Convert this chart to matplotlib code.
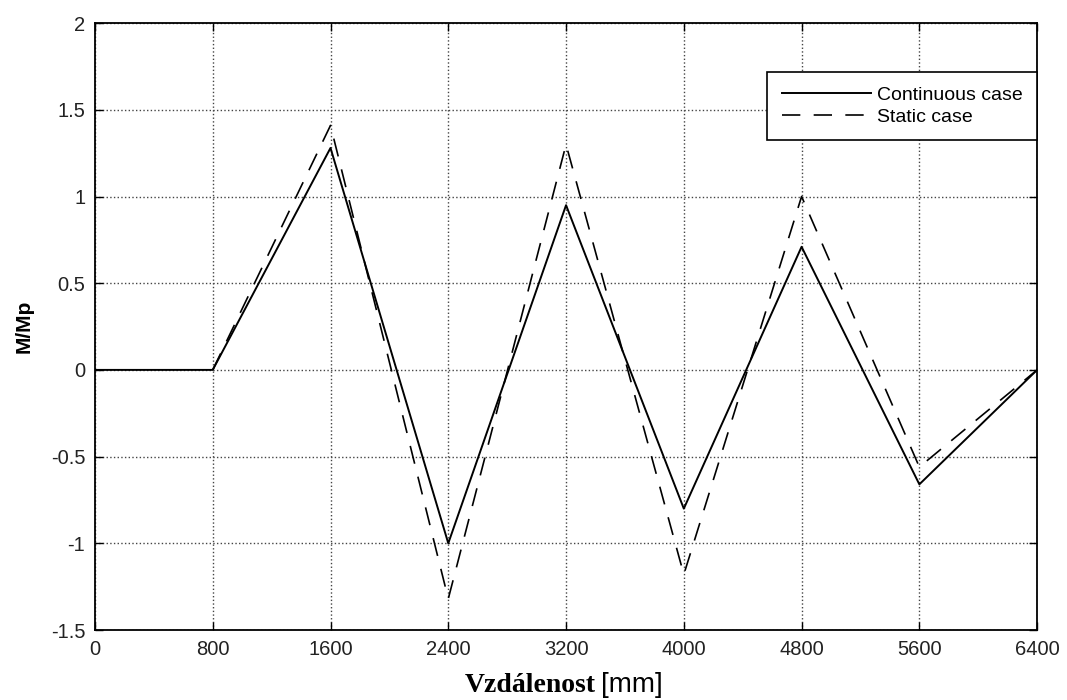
import matplotlib
matplotlib.use("Agg")
import matplotlib.pyplot as plt

# distance along the beam [mm]
x_pos = [0, 800, 1600, 2400, 3200, 4000, 4800, 5600, 6400]
continuous_case = [0, 0, 1.28, -1.0, 0.95, -0.80, 0.71, -0.66, 0]
static_x = [800, 1600, 2400, 3200, 4000, 4800, 5600, 6400]
static_case = [0, 1.41, -1.32, 1.30, -1.18, 1.0, -0.56, 0]

x_ticks = [0, 800, 1600, 2400, 3200, 4000, 4800, 5600, 6400]
y_ticks = [-1.5, -1, -0.5, 0, 0.5, 1, 1.5, 2]
y_tick_labels = ["-1.5", "-1", "-0.5", "0", "0.5", "1", "1.5", "2"]

plt.rcParams["font.family"] = ["Liberation Sans", "DejaVu Sans"]

fig = plt.figure(figsize=(10.67, 7.0), dpi=100)
ax = fig.add_axes([0.089, 0.1, 0.883, 0.867])

ax.plot(x_pos, continuous_case, color="black", lw=1.4, label="Continuous case")
ax.plot(static_x, static_case, color="black", lw=1.2, linestyle=(0, (11, 8)), label="Static case")

ax.set_xlim(0, 6400)
ax.set_ylim(-1.5, 2)
ax.set_xticks(x_ticks)
ax.set_yticks(y_ticks)
ax.set_yticklabels(y_tick_labels)
ax.tick_params(direction="in", length=6, width=1, labelsize=14.5, top=True, right=True, pad=7,
               labelcolor="#222222")
ax.grid(True, linestyle=":", color="#444444", lw=1)
for sp in ax.spines.values():
    sp.set_linewidth(1.3)

ax.set_ylabel("M/Mp", fontsize=15, fontweight="bold", labelpad=12)

# x label: serif bold word + sans unit, as in the original
fig.text(0.558, 0.012, "Vzdálenost", family="Liberation Serif", fontweight="bold", fontsize=20, ha="right", va="baseline")
fig.text(0.563, 0.012, "[mm]", fontsize=20, ha="left", va="baseline")

leg = ax.legend(loc="upper right", bbox_to_anchor=(1.0, 0.92), borderaxespad=0, fontsize=14,
                handlelength=4.6, labelspacing=0.22, fancybox=False, framealpha=1,
                edgecolor="black", borderpad=0.75, handletextpad=0.3)
leg.get_frame().set_linewidth(1.2)

fig.savefig("out.png", dpi=100)
